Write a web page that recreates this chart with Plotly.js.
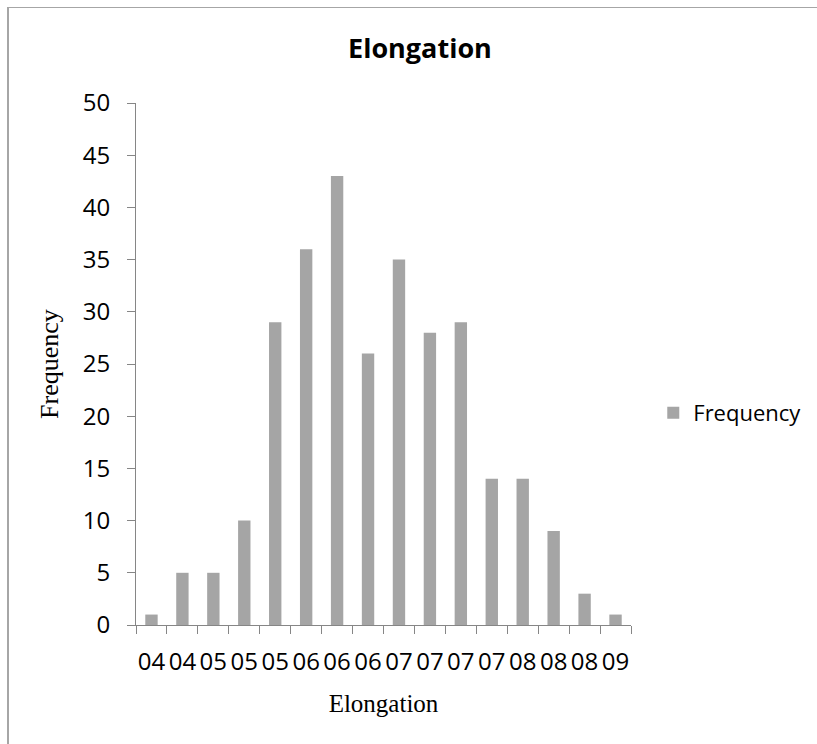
<!DOCTYPE html>
<html>
<head>
<meta charset="utf-8">
<script src="https://cdn.plot.ly/plotly-3.0.1.min.js"></script>
<style>
  html, body { margin: 0; padding: 0; background: #fff; }
  #wrap { position: relative; width: 817px; height: 744px; overflow: hidden; }
  #frame { position: absolute; left: 7px; top: 7px; width: 830px; height: 760px;
           border-left: 2px solid #a6a6a6; border-top: 1px solid #a6a6a6; box-sizing: border-box; }
  #chart { position: absolute; left: 0; top: 0; width: 817px; height: 744px; }
</style>
</head>
<body>
<div id="wrap">
  <div id="frame"></div>
  <div id="chart"></div>
</div>
<script>
// Data
const binLabels = ["04","04","05","05","05","06","06","06","07","07","07","07","08","08","08","09"];
const frequencies = [1, 5, 5, 10, 29, 36, 43, 26, 35, 28, 29, 14, 14, 9, 3, 1];
const seriesName = "Frequency";
const chartTitle = "Elongation";
const xTitle = "Elongation";
const yTitle = "Frequency";

const positions = binLabels.map((_, i) => i);
const boundaries = [];
for (let i = 0; i <= binLabels.length; i++) boundaries.push(i - 0.5);

const axisColor = "#868686";
const textFont = { family: "Open Sans, Noto Sans, sans-serif", size: 24, color: "#000" };

const trace = {
  type: "bar",
  x: positions,
  y: frequencies,
  name: seriesName,
  marker: { color: "#a5a5a5", line: { width: 0 } },
  showlegend: true,
  hoverinfo: "y"
};

const layout = {
  width: 817,
  height: 744,
  paper_bgcolor: "rgba(0,0,0,0)",
  plot_bgcolor: "rgba(0,0,0,0)",
  margin: { l: 136, r: 186, t: 103, b: 119, pad: 0, autoexpand: false },
  bargap: 0.6,
  title: {
    text: "<b>" + chartTitle + "</b>",
    font: { family: "Open Sans, Noto Sans, sans-serif", size: 27, color: "#000" },
    x: 0.514, xanchor: "center", xref: "container",
    y: 0.935, yanchor: "middle", yref: "container"
  },
  xaxis: {
    range: [-0.5, binLabels.length - 0.5],
    tickmode: "array",
    tickvals: positions,
    ticktext: binLabels,
    ticks: "",
    tickfont: textFont,
    ticklabelstandoff: 15,
    showgrid: false,
    zeroline: false,
    showline: true,
    linecolor: axisColor,
    linewidth: 1,
    minor: { tickmode: "array", tickvals: boundaries, ticks: "outside", ticklen: 8, tickcolor: axisColor, tickwidth: 1, showgrid: false },
    title: { text: xTitle, font: { family: "Liberation Serif, Times New Roman, serif", size: 25, color: "#000" }, standoff: 18 },
    fixedrange: true
  },
  yaxis: {
    range: [0, 50],
    tickmode: "linear",
    tick0: 0,
    dtick: 5,
    ticks: "outside",
    ticklen: 8,
    tickcolor: axisColor,
    tickwidth: 1,
    tickfont: textFont,
    ticklabelstandoff: 12,
    showgrid: false,
    zeroline: false,
    showline: true,
    linecolor: axisColor,
    linewidth: 1,
    title: { text: yTitle, font: { family: "Liberation Serif, Times New Roman, serif", size: 26, color: "#000" }, standoff: 16 },
    fixedrange: true
  },
  legend: {
    x: 1.045, xanchor: "left", xref: "paper",
    y: 0.406, yanchor: "middle",
    font: { family: "Open Sans, Noto Sans, sans-serif", size: 22, color: "#000" },
    bgcolor: "rgba(0,0,0,0)"
  }
};

Plotly.newPlot("chart", [trace], layout, { displayModeBar: false, staticPlot: true });
</script>
</body>
</html>
